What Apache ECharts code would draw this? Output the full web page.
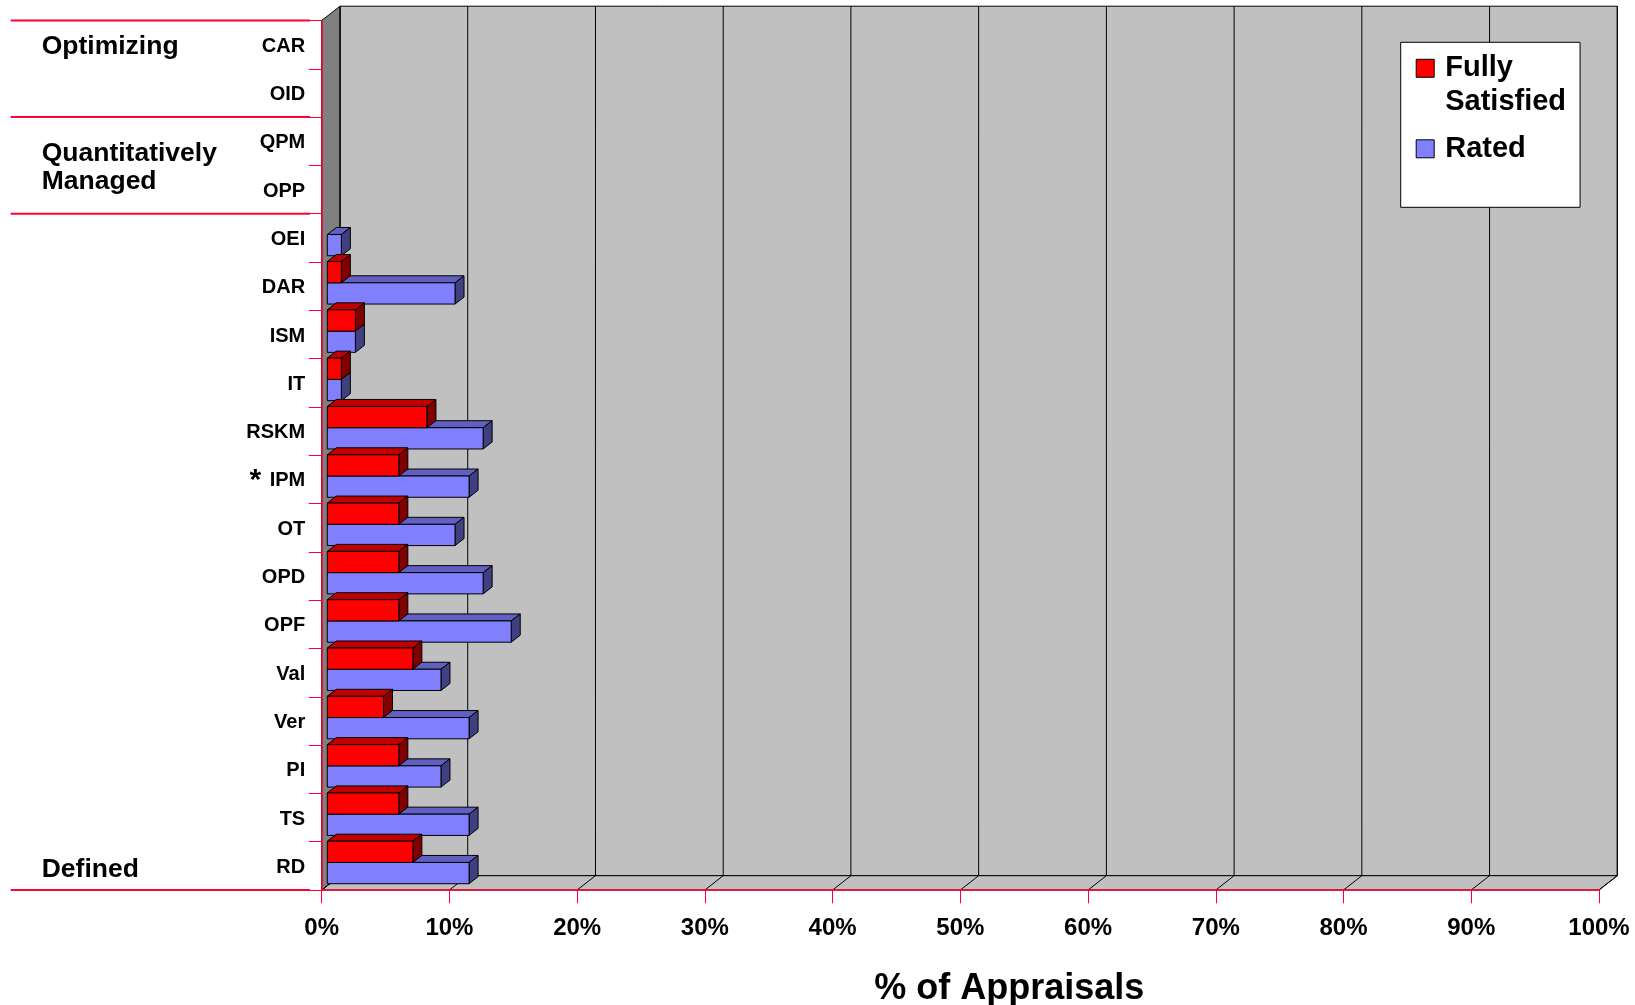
<!DOCTYPE html>
<html>
<head>
<meta charset="utf-8">
<script src="https://cdn.jsdelivr.net/npm/echarts@6/dist/echarts.min.js"></script>
<style>
html,body{margin:0;padding:0;background:#fff;}
#chart{width:1635px;height:1005px;}
</style>
</head>
<body>
<div id="chart"></div>
<script>
// ---- data ----
const categories = ['CAR','OID','QPM','OPP','OEI','DAR','ISM','IT','RSKM','IPM','OT','OPD','OPF','Val','Ver','PI','TS','RD'];
const fullySatisfied = [0, 0, 0, 0, 0, 1.1, 2.2, 1.1, 7.8, 5.6, 5.6, 5.6, 5.6, 6.7, 4.4, 5.6, 5.6, 6.7];
const rated          = [0, 0, 0, 0, 1.1, 10.0, 2.2, 1.1, 12.2, 11.1, 10.0, 12.2, 14.4, 8.9, 11.1, 8.9, 11.1, 11.1];
const xTicks = [0, 10, 20, 30, 40, 50, 60, 70, 80, 90, 100];
const starred = ['IPM'];
const groupNames = ['Optimizing', 'Quantitatively\nManaged', 'Defined'];
const groupFirst = ['CAR', 'QPM', 'OEI'];
const groupLast  = ['OID', 'OPP', 'RD'];
const groupLabelAt = ['first', 'middle', 'last'];
const seriesNames = ['Fully Satisfied', 'Rated'];

// ---- styles ----
const FONT = '"Liberation Sans", Arial, Helvetica, sans-serif';
const RED_LINE = '#ff0033';
const DEPTH = [18.3, -14.3];
const BAR_DEPTH = [9, -7];
const BAR_OFF = 5.6;
const FACE = {
  red:  { front: '#ff0000', top: '#c00000', side: '#800000' },
  blue: { front: '#8080ff', top: '#6060c0', side: '#404080' }
};

const chart = echarts.init(document.getElementById('chart'), null, { renderer: 'canvas' });

function wallsRender(params, api) {
  const cs = params.coordSys;
  const gx = cs.x, gy = cs.y, gw = cs.width, gh = cs.height;
  const dx = DEPTH[0], dy = DEPTH[1];
  const st = (fill) => ({ fill: fill, stroke: '#000', lineWidth: 1 });
  const children = [];
  children.push({ type: 'rect', shape: { x: gx + dx, y: gy + dy, width: gw, height: gh }, style: st('#c0c0c0') });
  children.push({ type: 'polygon', shape: { points: [[gx, gy + gh], [gx + gw, gy + gh], [gx + gw + dx, gy + gh + dy], [gx + dx, gy + gh + dy]] }, style: st('#c0c0c0') });
  children.push({ type: 'polygon', shape: { points: [[gx, gy], [gx + dx, gy + dy], [gx + dx, gy + gh + dy], [gx, gy + gh]] }, style: st('#808080') });
  xTicks.forEach(function (v) {
    const px = api.coord([v, 0])[0];
    children.push({ type: 'line', shape: { x1: px + dx, y1: gy + dy, x2: px + dx, y2: gy + gh + dy }, style: { stroke: '#000', lineWidth: 1 } });
    children.push({ type: 'line', shape: { x1: px, y1: gy + gh, x2: px + dx, y2: gy + gh + dy }, style: { stroke: '#000', lineWidth: 1 } });
  });
  return { type: 'group', children: children };
}

function makeBarRender(slot, face) {
  return function (params, api) {
    const ci = api.value(0), val = api.value(1);
    if (!val) return { type: 'group', children: [] };
    const p0 = api.coord([0, ci]);
    const p1 = api.coord([val, ci]);
    const band = api.size([0, 1])[1];
    const h = band * 0.44;
    const mid = p0[1] - band * 0.07;
    const top = slot === 0 ? mid - h : mid;
    const bot = top + h;
    const xl = p0[0] + BAR_OFF, xr = p1[0] + BAR_OFF;
    const bx = BAR_DEPTH[0], by = BAR_DEPTH[1];
    const line = { stroke: '#000', lineWidth: 1, lineJoin: 'round' };
    return {
      type: 'group',
      children: [
        { type: 'polygon', shape: { points: [[xl, top], [xr, top], [xr + bx, top + by], [xl + bx, top + by]] }, style: Object.assign({ fill: face.top }, line) },
        { type: 'polygon', shape: { points: [[xr, top], [xr + bx, top + by], [xr + bx, bot + by], [xr, bot]] }, style: Object.assign({ fill: face.side }, line) },
        { type: 'rect', shape: { x: xl, y: top, width: xr - xl, height: h }, style: Object.assign({ fill: face.front }, line) }
      ]
    };
  };
}

const option = {
  backgroundColor: '#fff',
  animation: false,
  textStyle: { fontFamily: FONT },
  grid: { left: 321.7, right: 36, top: 20.5, bottom: 115, outerBoundsMode: 'none', containLabel: false },
  legend: {
    orient: 'vertical',
    left: 1400.7,
    top: 42.3,
    padding: [9, 14, 32, 15],
    itemGap: 3,
    itemWidth: 24,
    itemHeight: 52,
    backgroundColor: '#fff',
    borderColor: '#000',
    borderWidth: 1,
    borderRadius: 0,
    selectedMode: false,
    data: [
      { name: seriesNames[0], icon: 'path://M0 0L18 0L18 18L0 18Z M24 52' },
      { name: seriesNames[1], icon: 'path://M0 17L18 17L18 35L0 35Z M0 0 M24 52' }
    ],
    formatter: function (n) { return n === seriesNames[0] ? 'Fully\nSatisfied' : n; },
    itemStyle: { borderColor: '#000', borderWidth: 1 },
    textStyle: { fontFamily: FONT, fontWeight: 'bold', fontSize: 29, lineHeight: 34, color: '#000' }
  },
  xAxis: {
    type: 'value',
    min: 0, max: 100, interval: 10,
    z: 10,
    axisLine: { show: true, lineStyle: { color: RED_LINE, width: 1.5 } },
    axisTick: { show: true, length: 13.3, lineStyle: { color: RED_LINE, width: 1 } },
    splitLine: { show: false },
    axisLabel: { show: true, showMinLabel: true, showMaxLabel: true, formatter: '{value}%', fontFamily: FONT, fontWeight: 'bold', fontSize: 24, color: '#000', margin: 26 },
    name: '% of Appraisals',
    nameLocation: 'middle',
    nameGap: 81,
    nameTextStyle: { fontFamily: FONT, fontWeight: 'bold', fontSize: 36, color: '#000', padding: [0, 0, 0, 98] }
  },
  yAxis: {
    type: 'category',
    data: categories,
    inverse: true,
    z: 10,
    axisLine: { show: true, lineStyle: { color: RED_LINE, width: 1.5 } },
    axisTick: { show: true, length: 13, lineStyle: { color: RED_LINE, width: 1 } },
    splitLine: { show: false },
    axisLabel: {
      fontFamily: FONT, fontWeight: 'bold', fontSize: 20, color: '#000', margin: 16.5,
      padding: [3, 0, 0, 0],
      formatter: function (v) { return starred.indexOf(v) >= 0 ? '{star|*} ' + v : v; },
      rich: { star: { fontFamily: FONT, fontWeight: 'bold', fontSize: 30, color: '#000', padding: [0, 3, 0, 0] } }
    }
  },
  series: [
    {
      name: 'walls', type: 'custom', silent: true, z: 1, clip: false,
      renderItem: wallsRender,
      data: [[0, 0]],
      encode: { x: 0, y: 1 }
    },
    {
      name: seriesNames[1], type: 'custom', z: 2, clip: false,
      itemStyle: { color: FACE.blue.front, borderColor: '#000', borderWidth: 1 },
      renderItem: makeBarRender(1, FACE.blue),
      data: categories.map(function (c, i) { return [i, rated[i]]; }),
      encode: { x: 1, y: 0 }
    },
    {
      name: seriesNames[0], type: 'custom', z: 3, clip: false,
      itemStyle: { color: FACE.red.front, borderColor: '#000', borderWidth: 1 },
      renderItem: makeBarRender(0, FACE.red),
      data: categories.map(function (c, i) { return [i, fullySatisfied[i]]; }),
      encode: { x: 1, y: 0 }
    }
  ]
};

chart.setOption(option);

// group labels and separators on the category axis
const yOf = function (c) { return chart.convertToPixel({ yAxisIndex: 0 }, c); };
const band = yOf(categories[1]) - yOf(categories[0]);
const graphics = [];
const sepX1 = 10.7, sepX2 = 310;
groupNames.forEach(function (g, i) {
  const yStart = yOf(groupFirst[i]) - band / 2;
  const yEnd = yOf(groupLast[i]) + band / 2;
  graphics.push({ type: 'line', shape: { x1: sepX1, y1: yStart, x2: sepX2, y2: yStart }, style: { stroke: RED_LINE, lineWidth: 2 }, z: 20 });
  if (i === groupNames.length - 1) {
    graphics.push({ type: 'line', shape: { x1: sepX1, y1: yEnd, x2: sepX2, y2: yEnd }, style: { stroke: RED_LINE, lineWidth: 2 }, z: 20 });
  }
  let ty;
  if (groupLabelAt[i] === 'first') ty = yOf(groupFirst[i]) + 2;
  else if (groupLabelAt[i] === 'last') ty = yOf(groupLast[i]) + 4;
  else ty = (yStart + yEnd) / 2 + 2;
  graphics.push({
    type: 'text', x: 41.7, y: ty, z: 20,
    style: { text: g, fill: '#000', font: 'bold 26.5px ' + FONT, lineHeight: 28.3, textAlign: 'left', verticalAlign: 'middle', textVerticalAlign: 'middle' }
  });
});
chart.setOption({ graphic: graphics });
</script>
</body>
</html>
